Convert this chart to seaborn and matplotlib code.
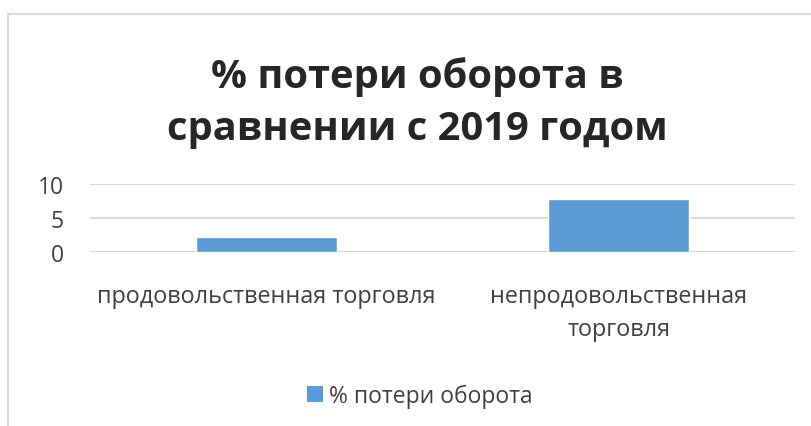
import matplotlib
matplotlib.use("Agg")
import matplotlib.pyplot as plt
import seaborn as sns
import pandas as pd
from matplotlib.lines import Line2D
from matplotlib.patches import Patch

categories = ["продовольственная торговля", "непродовольственная\nторговля"]
loss_values = [2.2, 7.8]
series_name = "% потери оборота"
title_lines = ["% потери оборота в", "сравнении с 2019 годом"]
y_ticks = [0, 5, 10]

sns.set_theme(style="white")
plt.rcParams["font.family"] = ["Open Sans", "DejaVu Sans"]

df = pd.DataFrame({"category": categories, "value": loss_values})

W, H = 812, 427
fig = plt.figure(figsize=(W / 100, H / 100), dpi=100)
ax = fig.add_axes([90 / W, 1 - 253 / H, 705 / W, 68 / H])

bar_color = "#5b9bd5"
text_gray = "#404040"
grid_gray = "#d9d9d9"

sns.barplot(data=df, x="category", y="value", color=bar_color, width=0.4,
            saturation=1, ax=ax, zorder=3)

ax.set_ylim(0, 10)
ax.set_yticks(y_ticks)
ax.set_xlim(-0.5, 1.5)
ax.set_xlabel("")
ax.set_ylabel("")
for s in ax.spines.values():
    s.set_visible(False)
ax.yaxis.grid(True, color=grid_gray, linewidth=1.5, zorder=0)
ax.set_axisbelow(True)
ax.tick_params(axis="y", length=0, pad=19, labelsize=16.5, labelcolor=text_gray)
ax.tick_params(axis="x", length=0, pad=23, labelsize=16.8, labelcolor=text_gray)
for lbl in ax.get_xticklabels():
    lbl.set_linespacing(1.5)

# two-line bold title, one text per line
for line, base_y in zip(title_lines, [88, 140]):
    fig.text(0.514, 1 - base_y / H, line, ha="center", va="baseline",
             fontsize=28.7, fontweight="bold", color="#262626")

fig.legend(handles=[Patch(facecolor=bar_color, edgecolor="none", label=series_name)],
           loc="center", bbox_to_anchor=(0.517, 1 - 397 / H), frameon=False,
           fontsize=16.5, handlelength=0.7, handleheight=0.7, handletextpad=0.3,
           labelcolor=text_gray)

# chart frame
fig.add_artist(Line2D([8 / W, 1.0], [1 - 15 / H, 1 - 15 / H],
                      transform=fig.transFigure, color=grid_gray, linewidth=1.5))
fig.add_artist(Line2D([8 / W, 8 / W], [0.0, 1 - 15 / H],
                      transform=fig.transFigure, color=grid_gray, linewidth=1.5))

fig.savefig("out.png", dpi=100)
